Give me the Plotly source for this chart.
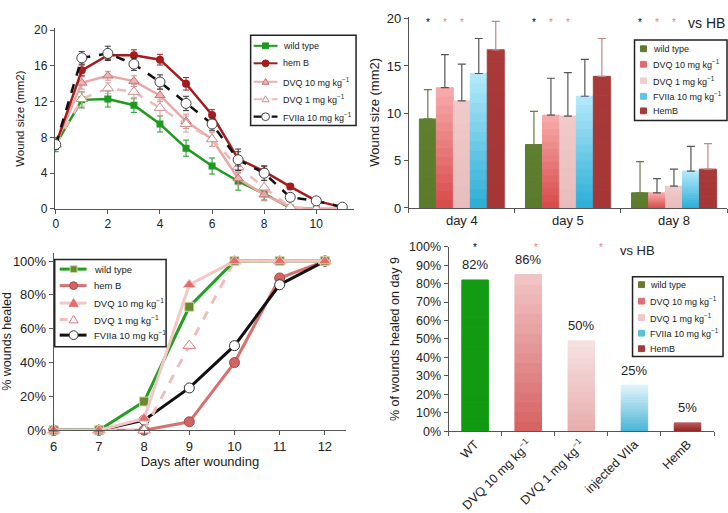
import plotly.graph_objects as go

W, H = 728, 513
FONT = "Liberation Sans, Arial, sans-serif"
TXT = "#222"
AX = "#555"


def px(x):
    return x / W


def py(y):
    return 1 - y / H


def xd(a, b):
    return [a / W, b / W]


def yd(top, bottom):
    return [1 - bottom / H, 1 - top / H]


def hx(c):
    c = c.lstrip("#")
    return [int(c[i:i + 2], 16) for i in (0, 2, 4)]


def lerp(c1, c2, t):
    a, b = hx(c1), hx(c2)
    return "rgb(%d,%d,%d)" % tuple(round(a[i] + (b[i] - a[i]) * t) for i in range(3))


# ---------------- Panel A data: wound size over time ----------------
days_a = [0, 1, 2, 3, 4, 5, 6, 7, 8, 9, 10, 11]
wt_a = [7.2, 12.2, 12.3, 11.6, 9.5, 6.8, 4.8, 3.1, 1.7, 0.1, 0.0, 0.0]
wt_a_err = [0.8, 0.9, 0.9, 0.8, 0.9, 0.9, 0.9, 1.0, 0.7, 0.0, 0.0, 0.0]
hemb_a = [7.2, 15.5, 17.2, 17.2, 16.7, 14.0, 10.5, 5.6, 4.2, 2.5, 0.9, 0.2]
hemb_a_err = [0.5, 0.6, 0.5, 0.6, 0.6, 0.7, 0.6, 0.8, 0.6, 0.3, 0.2, 0.1]
dvq10_a = [7.2, 14.1, 14.9, 14.3, 12.7, 9.8, 7.8, 3.4, 1.6, 0.2, 0.0, 0.0]
dvq10_a_err = [0.5, 0.7, 0.5, 0.6, 0.7, 0.8, 0.8, 0.7, 0.7, 0.2, 0.0, 0.0]
dvq1_a = [7.2, 12.3, 13.5, 13.1, 11.3, 9.5, 7.8, 4.7, 2.4, 0.2, 0.0, 0.0]
dvq1_a_err = [0.5, 0.8, 0.6, 0.8, 0.9, 0.9, 0.8, 0.7, 0.8, 0.2, 0.0, 0.0]
fvii_a = [7.2, 16.9, 17.4, 16.2, 14.2, 11.8, 9.5, 5.5, 4.0, 1.3, 0.9, 0.2]
fvii_a_err = [0.5, 0.7, 0.8, 0.7, 0.8, 0.8, 0.7, 1.2, 0.8, 0.4, 0.2, 0.1]

# ---------------- Panel B data: wound size per day (bars) ----------------
days_b = ["day 4", "day 5", "day 8"]
wt_b = [9.4, 6.7, 1.6]
wt_b_err = [3.1, 3.5, 3.3]
dvq10_b = [12.7, 9.8, 1.6]
dvq10_b_err = [3.5, 3.9, 1.5]
dvq1_b = [11.3, 9.7, 2.3]
dvq1_b_err = [3.9, 4.6, 1.8]
fvii_b = [14.2, 11.8, 3.9]
fvii_b_err = [3.7, 3.9, 2.6]
hemb_b = [16.7, 13.9, 4.1]
hemb_b_err = [3.0, 4.0, 2.7]

# ---------------- Panel C data: % wounds healed ----------------
days_c = [6, 7, 8, 9, 10, 11, 12]
wt_c = [0, 0, 17, 73, 100, 100, 100]
hemb_c = [0, 0, 0, 5, 40, 90, 100]
dvq10_c = [0, 0, 7, 86, 100, 100, 100]
dvq1_c = [0, 0, 0, 50, 100, 100, 100]
fvii_c = [0, 0, 6, 25, 50, 86, 100]

# ---------------- Panel D data: % healed on day 9 ----------------
cats_d = ["WT", "DVQ 10 mg kg<sup>−1</sup>", "DVQ 1 mg kg<sup>−1</sup>", "injected VIIa", "HemB"]
vals_d = [82, 85, 49, 25, 4.5]
labels_d = ["82%", "86%", "50%", "25%", "5%"]

MGKG = " mg kg<sup>−1</sup>"
legend_names_a = ["wild type", "hem B", "DVQ 10" + MGKG, "DVQ 1" + MGKG, "FVIIa 10" + MGKG]
legend_names_b = ["wild type", "DVQ 10" + MGKG, "DVQ 1" + MGKG, "FVIIa 10" + MGKG, "HemB"]

fig = go.Figure()

# ======== Panel A ========
ax_a = dict(xaxis="x", yaxis="y")


def err(arr, col):
    return dict(type="data", array=arr, color=col, thickness=1, width=3)


fig.add_trace(go.Scatter(x=days_a, y=wt_a, name="wild type", mode="lines+markers",
                         line=dict(color="#1e9a1e", width=2.5),
                         marker=dict(symbol="square", size=7, color="#1e9a1e"),
                         error_y=err(wt_a_err, "#1e9a1e"), **ax_a))
fig.add_trace(go.Scatter(x=days_a, y=dvq10_a, name="DVQ 10" + MGKG, mode="lines+markers",
                         line=dict(color="#e8a8a8", width=2.5),
                         marker=dict(symbol="triangle-up", size=9, color="#ecb4b4",
                                     line=dict(color="#c87070", width=1)),
                         error_y=err(dvq10_a_err, "#d89090"), **ax_a))
fig.add_trace(go.Scatter(x=days_a, y=dvq1_a, name="DVQ 1" + MGKG, mode="lines+markers",
                         line=dict(color="#f0baba", width=2.5, dash="dash"),
                         marker=dict(symbol="triangle-up", size=10, color="white",
                                     line=dict(color="#d09090", width=1)),
                         error_y=err(dvq1_a_err, "#d8a0a0"), **ax_a))
fig.add_trace(go.Scatter(x=days_a, y=hemb_a, name="hem B", mode="lines+markers",
                         line=dict(color="#a51c1c", width=2.5),
                         marker=dict(symbol="circle", size=8, color="#a51c1c"),
                         error_y=err(hemb_a_err, "#a51c1c"), **ax_a))
fig.add_trace(go.Scatter(x=days_a, y=fvii_a, name="FVIIa 10" + MGKG, mode="lines+markers",
                         line=dict(color="#111", width=2.5, dash="dash"),
                         marker=dict(symbol="circle", size=10, color="white",
                                     line=dict(color="#444", width=1)),
                         error_y=err(fvii_a_err, "#333"), **ax_a))

# ======== Panel B (gradient bars via stacked slices) ========
NS = 14
series_b = [
    ("wild type", wt_b, wt_b_err, "#5a7a2c", "#5f7f30", "#6a7a40"),
    ("DVQ 10" + MGKG, dvq10_b, dvq10_b_err, "#d84848", "#f8acac", "#555555"),
    ("DVQ 1" + MGKG, dvq1_b, dvq1_b_err, "#e8bcbc", "#f0caca", "#555555"),
    ("FVIIa 10" + MGKG, fvii_b, fvii_b_err, "#2aacd6", "#b4eafa", "#555555"),
    ("HemB", hemb_b, hemb_b_err, "#a63636", "#a83a3a", "#c08888"),
]
for name, vals, errs, cb, ct, ecol in series_b:
    for k in range(NS):
        t = (k + 0.5) / NS
        col = lerp(cb, ct, t)
        kw = {}
        if k == NS - 1:
            kw["error_y"] = dict(type="data", array=errs, arrayminus=[0] * len(errs),
                                 color=ecol, thickness=1.2, width=4)
        fig.add_trace(go.Bar(x=days_b, y=[v / NS for v in vals], base=[v * k / NS for v in vals],
                             name=name, offsetgroup=name,
                             marker=dict(color=col, line=dict(width=1, color=col)),
                             xaxis="x2", yaxis="y2", hoverinfo="skip", **kw))

# ======== Panel C ========
ax_c = dict(xaxis="x3", yaxis="y3", cliponaxis=False)
fig.add_trace(go.Scatter(x=days_c, y=hemb_c, name="hem B", mode="lines+markers",
                         line=dict(color="#d87070", width=3),
                         marker=dict(symbol="circle", size=10, color="#d46464",
                                     line=dict(color="#a84848", width=1)), **ax_c))
fig.add_trace(go.Scatter(x=days_c, y=fvii_c, name="FVIIa 10" + MGKG, mode="lines+markers",
                         line=dict(color="#111", width=3),
                         marker=dict(symbol="circle", size=10, color="white",
                                     line=dict(color="#333", width=1)), **ax_c))
fig.add_trace(go.Scatter(x=days_c, y=dvq1_c, name="DVQ 1" + MGKG, mode="lines+markers",
                         line=dict(color="#f0bcbc", width=3, dash="dash"),
                         marker=dict(symbol="triangle-up", size=11, color="white",
                                     line=dict(color="#e07878", width=1)), **ax_c))
fig.add_trace(go.Scatter(x=days_c, y=wt_c, name="wild type", mode="lines+markers",
                         line=dict(color="#22a022", width=3),
                         marker=dict(symbol="square", size=9, color="#6b8a30",
                                     line=dict(color="#c8d8a0", width=1)), **ax_c))
fig.add_trace(go.Scatter(x=days_c, y=dvq10_c, name="DVQ 10" + MGKG, mode="lines+markers",
                         line=dict(color="#f4c6c6", width=3),
                         marker=dict(symbol="triangle-up", size=11, color="#e46c6c",
                                     line=dict(color="#f4c6c6", width=1)), **ax_c))

# ======== Panel D ========
NSD = 16
bot_d = ["#119a11", "#d66060", "#e8acac", "#48b4d6", "#8e2424"]
top_d = ["#139c13", "#f2c6c6", "#f6e2e2", "#e2f4fa", "#bc5656"]
for k in range(NSD):
    t = (k + 0.5) / NSD
    cols = [lerp(b, tp, t) for b, tp in zip(bot_d, top_d)]
    fig.add_trace(go.Bar(x=cats_d, y=[v / NSD for v in vals_d], base=[v * k / NSD for v in vals_d],
                         offsetgroup="d", width=0.5,
                         marker=dict(color=cols, line=dict(width=1, color=cols)),
                         xaxis="x4", yaxis="y4", hoverinfo="skip"))

annotations = []
shapes = []
for i, (v, lab) in enumerate(zip(vals_d, labels_d)):
    annotations.append(dict(x=i, y=v, xref="x4", yref="y4", text=lab, showarrow=False,
                            yshift=15, font=dict(size=13, color=TXT)))

# significance stars panel B
for gi in range(3):
    for off, col in [(-0.32, "#000000"), (-0.16, "#f08080"), (0.0, "#f08080")]:
        annotations.append(dict(x=gi + off, y=19.6, xref="x2", yref="y2", text="*", showarrow=False,
                                font=dict(size=10, color=col)))
annotations.append(dict(x=2.31, y=19.5, xref="x2", yref="y2", text="vs HB", showarrow=False,
                        font=dict(size=14, color=TXT)))
# significance stars panel D
for xx, col in [(0, "#000000"), (1.15, "#f08080"), (2.37, "#f08080")]:
    annotations.append(dict(x=xx, y=99.5, xref="x4", yref="y4", text="*", showarrow=False,
                            font=dict(size=10, color=col)))
annotations.append(dict(x=3.05, y=98, xref="x4", yref="y4", text="vs HB", showarrow=False,
                        font=dict(size=13, color=TXT)))


# ---------- legends (drawn as layout shapes + text) ----------
def box(x0, y0, x1, y1):
    shapes.append(dict(type="rect", xref="paper", yref="paper", x0=px(x0), x1=px(x1),
                       y0=py(y1), y1=py(y0), line=dict(color="#222", width=1.5),
                       fillcolor="white", layer="above"))


def hline(x0, x1, y, col, w, dash="solid"):
    shapes.append(dict(type="line", xref="paper", yref="paper", x0=px(x0), x1=px(x1),
                       y0=py(y), y1=py(y), line=dict(color=col, width=w, dash=dash), layer="above"))


def circ(cx, cy, r, fill, edge):
    shapes.append(dict(type="circle", xref="paper", yref="paper", x0=px(cx - r), x1=px(cx + r),
                       y0=py(cy + r), y1=py(cy - r), fillcolor=fill,
                       line=dict(color=edge, width=1), layer="above"))


def sq(cx, cy, r, fill, edge=None):
    shapes.append(dict(type="rect", xref="paper", yref="paper", x0=px(cx - r), x1=px(cx + r),
                       y0=py(cy + r), y1=py(cy - r), fillcolor=fill,
                       line=dict(color=edge or fill, width=1), layer="above"))


def tri(cx, cy, r, fill, edge):
    path = "M %f,%f L %f,%f L %f,%f Z" % (px(cx - r), py(cy + r * 0.75), px(cx + r), py(cy + r * 0.75),
                                          px(cx), py(cy - r))
    shapes.append(dict(type="path", xref="paper", yref="paper", path=path, fillcolor=fill,
                       line=dict(color=edge, width=1), layer="above"))


def label(x, y, text, size=9):
    annotations.append(dict(x=px(x), y=py(y), xref="paper", yref="paper", text=text,
                            showarrow=False, xanchor="left", yanchor="middle",
                            font=dict(size=size, color=TXT, family=FONT)))


# Legend A
box(248, 29, 354, 122)
rows_a = [40, 58, 77, 95, 113]
hline(251, 275, rows_a[0], "#1e9a1e", 2)
sq(263, rows_a[0], 3, "#1e9a1e")
hline(251, 275, rows_a[1], "#a51c1c", 2)
circ(263, rows_a[1], 3.5, "#a51c1c", "#a51c1c")
hline(251, 275, rows_a[2], "#eab0b0", 2)
tri(263, rows_a[2], 3.5, "#ecb4b4", "#c87070")
hline(251, 275, rows_a[3], "#f0baba", 2, "dash")
tri(263, rows_a[3], 3.5, "white", "#d09090")
hline(251, 275, rows_a[4], "#111", 2.2, "dash")
circ(263, rows_a[4], 4, "white", "#444")
for yv, nm in zip(rows_a, legend_names_a):
    label(279, yv, nm)

# Legend B
box(634, 34, 727, 117)
rows_b = [43, 59, 76, 92, 107]
cols_b = ["#5d7a2e", "#e46a6a", "#f0cccc", "#5cc4e4", "#a63a3a"]
for yv, nm, c in zip(rows_b, legend_names_b, cols_b):
    sq(643, yv, 3, c)
    label(651, yv, nm)

# Legend C
box(51, 260, 163, 350)
rows_c = [270, 287, 305, 322, 338]
hline(56, 83, rows_c[0], "#22a022", 3)
sq(70, rows_c[0], 3.5, "#6b8a30", "#c8d8a0")
hline(56, 83, rows_c[1], "#d87070", 3)
circ(70, rows_c[1], 4, "#d46464", "#a84848")
hline(56, 83, rows_c[2], "#f4c6c6", 3)
tri(70, rows_c[2], 4.5, "#e46c6c", "#e46c6c")
hline(56, 64, rows_c[3], "#f0bcbc", 3)
tri(70, rows_c[3], 4.5, "white", "#e07878")
hline(56, 83, rows_c[4], "#111", 3)
circ(70, rows_c[4], 4.5, "white", "#333")
for yv, nm in zip(rows_c, legend_names_a):
    label(88, yv, nm, 9.5)

# Legend D
box(632, 278, 723, 360)
rows_d = [286, 303, 320, 336, 352]
cols_d = ["#6b7a30", "#e07070", "#f0c8c8", "#5cc0dc", "#a03c3c"]
for yv, nm, c in zip(rows_d, legend_names_b, cols_d):
    sq(641, yv, 3, c)
    label(648, yv, nm)


def axis(**kw):
    base = dict(showline=True, linecolor=AX, linewidth=1, ticks="outside", ticklen=4,
                tickcolor=AX, showgrid=False, zeroline=False,
                tickfont=dict(size=12, color=TXT, family=FONT))
    base.update(kw)
    return base


fig.update_layout(
    width=W, height=H, margin=dict(l=0, r=0, t=0, b=0),
    paper_bgcolor="white", plot_bgcolor="white",
    font=dict(family=FONT, color=TXT),
    showlegend=False,
    barmode="group", bargap=0.2, bargroupgap=0,
    annotations=annotations, shapes=shapes,
    xaxis=axis(domain=xd(51, 352), range=[-0.04, 11.45], dtick=2, tick0=0, anchor="y"),
    yaxis=axis(domain=yd(22, 208), range=[0, 20.2], dtick=4, anchor="x",
               title=dict(text="Wound size (mm2)", font=dict(size=11.5, color=TXT), standoff=6)),
    xaxis2=axis(domain=xd(407, 727), range=[-0.5, 2.5], anchor="y2", tickson="boundaries",
                tickfont=dict(size=13, color=TXT, family=FONT)),
    yaxis2=axis(domain=yd(10, 207), range=[0, 20.2], dtick=5, anchor="x2",
                tickfont=dict(size=13, color=TXT, family=FONT),
                title=dict(text="Wound size (mm2)", font=dict(size=13, color=TXT), standoff=4)),
    xaxis3=axis(domain=xd(50, 344), range=[6, 12.47], dtick=1, anchor="y3",
                tickfont=dict(size=13, color=TXT, family=FONT),
                title=dict(text="Days after wounding", font=dict(size=13, color=TXT), standoff=2)),
    yaxis3=axis(domain=yd(253, 436), range=[0, 105], dtick=20, ticksuffix="%", anchor="x3",
                tickfont=dict(size=13, color=TXT, family=FONT),
                title=dict(text="% wounds healed", font=dict(size=12.5, color=TXT), standoff=4)),
    xaxis4=axis(domain=xd(447, 714), range=[-0.5, 4.5], anchor="y4", tickson="boundaries",
                tickangle=-45, tickfont=dict(size=12.5, color=TXT, family=FONT)),
    yaxis4=axis(domain=yd(247, 437), range=[0, 100], dtick=10, ticksuffix="%", anchor="x4",
                tickfont=dict(size=12.5, color=TXT, family=FONT),
                title=dict(text="% of wounds healed on day 9", font=dict(size=12.5, color=TXT), standoff=6)),
)

fig.write_html("out.html")
